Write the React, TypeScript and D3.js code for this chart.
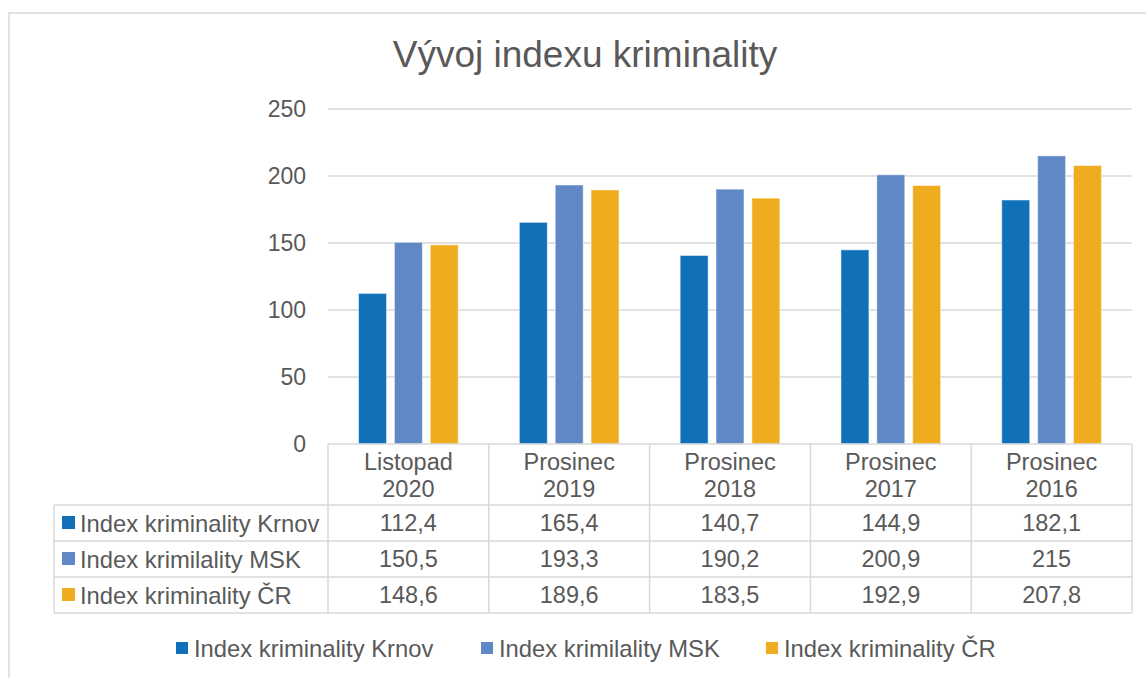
import React from "react";
import * as d3 from "d3";

// kategorie (dva řádky popisku) a hodnoty řad
const categories = ["Listopad 2020", "Prosinec 2019", "Prosinec 2018", "Prosinec 2017", "Prosinec 2016"];
const seriesNames = ["Index kriminality Krnov", "Index krimilality MSK", "Index kriminality ČR"];
const krnov = [112.4, 165.4, 140.7, 144.9, 182.1];
const msk = [150.5, 193.3, 190.2, 200.9, 215];
const cr = [148.6, 189.6, 183.5, 192.9, 207.8];
const yTicks = [0, 50, 100, 150, 200, 250];
const colors = ["#1071b9", "#6088c6", "#f0ac1f"];

const values = [krnov, msk, cr];
const fmt = (v: number) => String(v).replace(".", ",");

const W = 1146,
  H = 678;
const plot = { left: 328, right: 1132, top: 109, bottom: 444 };
const table = { left: 54, headerBottom: 505, rowH: 36 };
const textColor = "#595959";
const gridColor = "#d9d9d9";
const font = "'Liberation Sans', Arial, sans-serif";

export default function App() {
  const x = d3.scaleBand().domain(categories).range([plot.left, plot.right]);
  const bw = x.bandwidth();
  const xs = d3
    .scaleBand()
    .domain(seriesNames)
    .range([bw * 0.19, bw * 0.81])
    .paddingInner(0.22);
  const y = d3.scaleLinear().domain([0, 250]).range([plot.bottom, plot.top]);

  const rowsTop = table.headerBottom;
  const tableBottom = rowsTop + table.rowH * seriesNames.length;

  return (
    <svg
      width={W}
      height={H}
      style={{ position: "absolute", left: 0, top: 0, background: "#fff" }}
      fontFamily={font}
    >
      {/* rámeček grafu */}
      <rect x={9} y={13} width={1160} height={700} fill="#fff" stroke={gridColor} strokeWidth={1.5} />

      {/* nadpis */}
      <text x={585} y={67} textAnchor="middle" fontSize={37} fill={textColor}>
        Vývoj indexu kriminality
      </text>

      {/* mřížka a popisky osy Y */}
      {yTicks.map((t) => (
        <g key={t}>
          {t > 0 && (
            <line x1={plot.left} x2={plot.right} y1={y(t)} y2={y(t)} stroke={gridColor} strokeWidth={1.5} />
          )}
          <text x={306} y={y(t)} dy="0.36em" textAnchor="end" fontSize={23} fill={textColor}>
            {t}
          </text>
        </g>
      ))}

      {/* sloupce */}
      {categories.map((c, ci) => (
        <g key={c} transform={`translate(${x(c)},0)`}>
          {seriesNames.map((s, si) => (
            <rect
              key={s}
              x={xs(s)}
              y={y(values[si][ci])}
              width={xs.bandwidth()}
              height={y(0) - y(values[si][ci])}
              fill={colors[si]}
              stroke="#fff"
              strokeOpacity={0.5}
              strokeWidth={1}
            />
          ))}
        </g>
      ))}

      {/* datová tabulka */}
      <g stroke={gridColor} strokeWidth={1.5}>
        <line x1={plot.left} x2={plot.right} y1={plot.bottom} y2={plot.bottom} />
        {d3.range(seriesNames.length + 1).map((i) => (
          <line
            key={i}
            x1={table.left}
            x2={plot.right}
            y1={rowsTop + i * table.rowH}
            y2={rowsTop + i * table.rowH}
          />
        ))}
        <line x1={table.left} x2={table.left} y1={rowsTop} y2={tableBottom} />
        {categories.map((c) => (
          <line key={c} x1={x(c)} x2={x(c)} y1={plot.bottom} y2={tableBottom} />
        ))}
        <line x1={plot.right} x2={plot.right} y1={plot.bottom} y2={tableBottom} />
      </g>

      {categories.map((c) => {
        const [l1, l2] = c.split(" ");
        const cx = (x(c) as number) + bw / 2;
        return (
          <g key={c} fontSize={23.5} fill={textColor} textAnchor="middle">
            <text x={cx} y={470}>{l1}</text>
            <text x={cx} y={497}>{l2}</text>
          </g>
        );
      })}

      {seriesNames.map((s, si) => {
        const cy = rowsTop + si * table.rowH + table.rowH / 2;
        return (
          <g key={s} fontSize={23.5} fill={textColor}>
            <rect x={62} y={cy - 7} width={13} height={13} fill={colors[si]} />
            <text x={80} y={cy} dy="0.36em" fontSize={23.8}>{s}</text>
            {categories.map((c, ci) => (
              <text key={c} x={(x(c) as number) + bw / 2} y={cy} dy="0.36em" textAnchor="middle">
                {fmt(values[si][ci])}
              </text>
            ))}
          </g>
        );
      })}

      {/* legenda */}
      {seriesNames.map((s, si) => {
        const lx = [176, 481, 766][si];
        return (
          <g key={s} fontSize={23.8} fill={textColor}>
            <rect x={lx} y={642} width={12} height={12} fill={colors[si]} />
            <text x={lx + 18} y={648} dy="0.36em">{s}</text>
          </g>
        );
      })}
    </svg>
  );
}
